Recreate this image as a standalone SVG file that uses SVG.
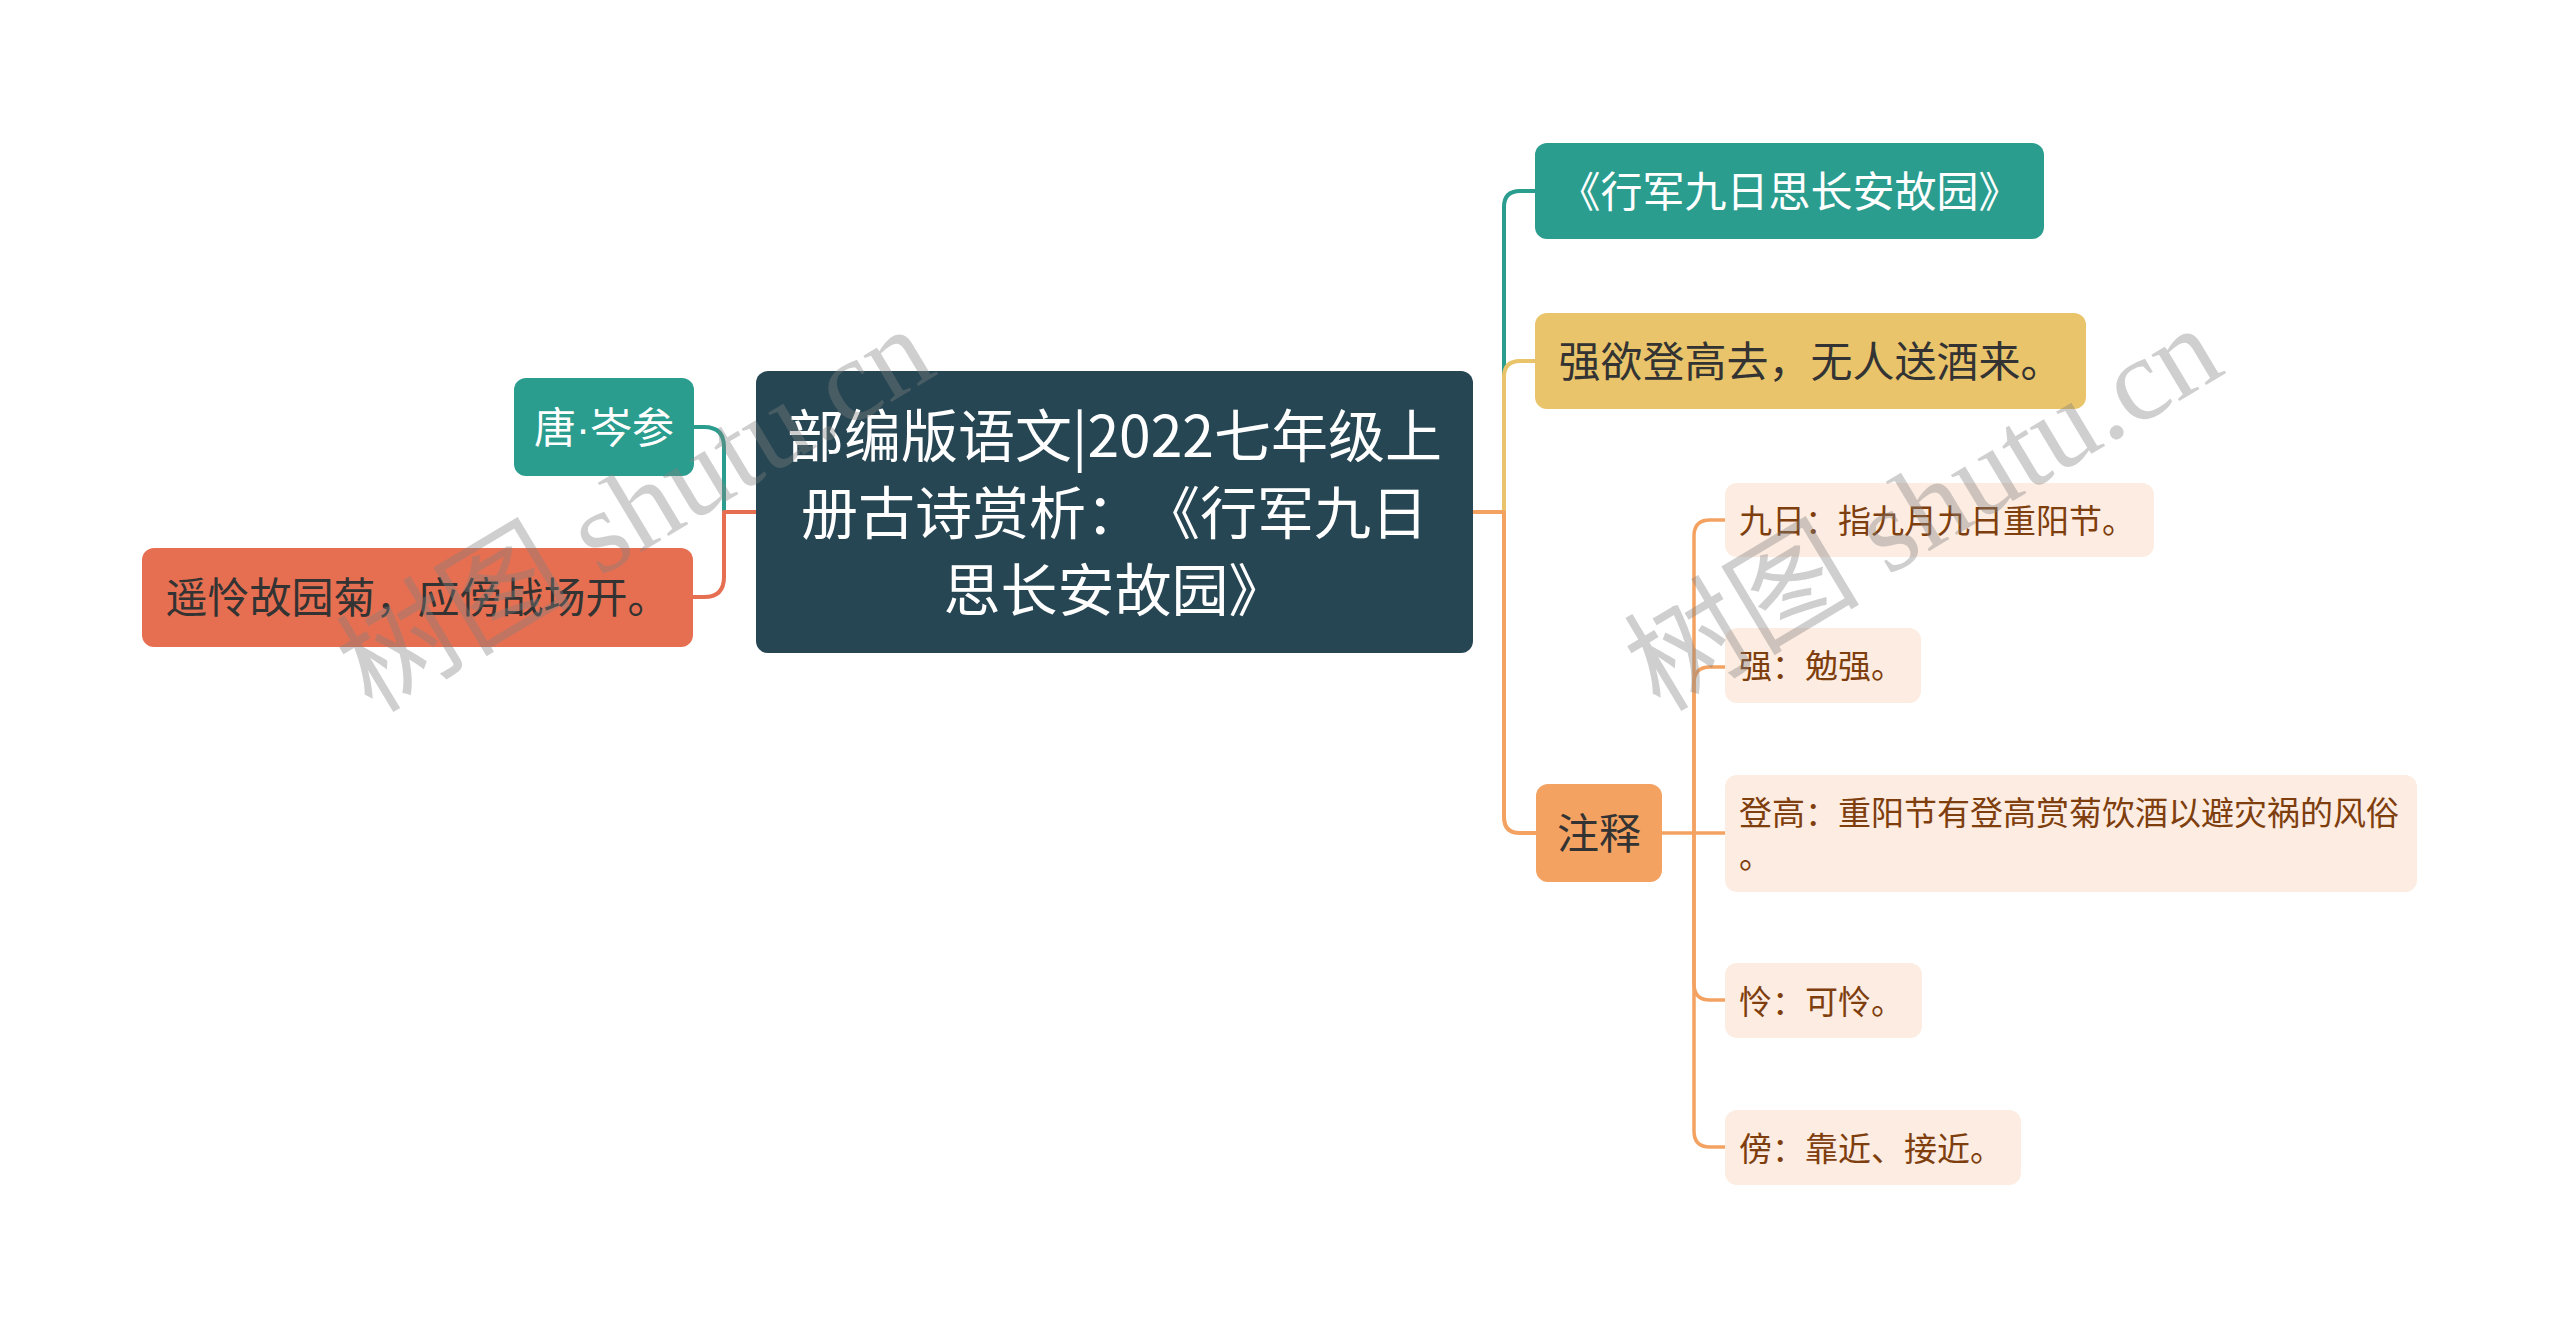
<svg xmlns="http://www.w3.org/2000/svg" width="2560" height="1327" viewBox="0 0 2560 1327">
<style>
text{font-family:"Noto Sans CJK SC","Noto Sans",sans-serif;text-spacing-trim:space-all;font-feature-settings:"chws" 0,"halt" 0}
.c{fill:none;stroke-width:4;stroke-linecap:round;stroke-linejoin:round}
.s{fill:none;stroke:#f4a261;stroke-width:3.5;stroke-linejoin:round}
.t1{font-size:42px}
.sub rect{fill:#fdece1}
.sub text{font-size:33px;fill:#7e3e0e}
.wm{font-family:"Liberation Serif","Noto Sans CJK SC",serif;font-size:118px;fill:#808080;fill-opacity:0.38}
</style>
<rect width="2560" height="1327" fill="#ffffff"/>
<g id="connectors">
<path class="c" stroke="#2a9d8f" d="M724,512 V447 Q724,427 704,427 H694"/>
<path class="c" stroke="#e76f51" d="M756,512 H724 V577 Q724,597 704,597 H693"/>
<path class="c" stroke="#2a9d8f" d="M1504,512 V207 Q1504,191 1520,191 H1535"/>
<path class="c" stroke="#e9c46a" d="M1504,512 V377 Q1504,361 1520,361 H1535"/>
<path class="c" stroke="#f4a261" d="M1473,512 H1504 V817 Q1504,833 1520,833 H1536"/>
<path class="s" d="M1694,833 V536 Q1694,520 1710,520 H1725"/>
<path class="s" d="M1694,833 V683 Q1694,667 1710,667 H1725"/>
<path class="s" d="M1662,833 H1725"/>
<path class="s" d="M1694,833 V984 Q1694,1000 1710,1000 H1725"/>
<path class="s" d="M1694,833 V1131 Q1694,1147 1710,1147 H1725"/>
</g>
<g id="root">
<rect x="756" y="371" width="717" height="282" rx="12" fill="#264653"/>
<text x="1114.5" y="457" font-size="57" fill="#ffffff" text-anchor="middle">部编版语文|2022七年级上</text>
<text x="1114.5" y="534" font-size="57" fill="#ffffff" text-anchor="middle">册古诗赏析：《行军九日</text>
<text x="1114.5" y="611" font-size="57" fill="#ffffff" text-anchor="middle">思长安故园》</text>
</g>
<g id="author">
<rect x="514" y="378" width="180" height="98" rx="12" fill="#2a9d8f"/>
<text class="t1" x="604" y="443" fill="#ffffff" text-anchor="middle">唐<tspan font-family="Liberation Sans, sans-serif">·</tspan>岑参</text>
</g>
<g id="line2">
<rect x="142" y="548" width="551" height="99" rx="12" fill="#e76f51"/>
<text class="t1" x="417.5" y="613" fill="#333333" text-anchor="middle">遥怜故园菊，应傍战场开。</text>
</g>
<g id="title">
<rect x="1535" y="143" width="509" height="96" rx="12" fill="#2a9d8f"/>
<text class="t1" x="1789.5" y="207" fill="#ffffff" text-anchor="middle">《行军九日思长安故园》</text>
</g>
<g id="line1">
<rect x="1535" y="313" width="551" height="96" rx="12" fill="#e9c46a"/>
<text class="t1" x="1810.5" y="377" fill="#333333" text-anchor="middle">强欲登高去，无人送酒来。</text>
</g>
<g id="notes">
<rect x="1536" y="784" width="126" height="98" rx="12" fill="#f4a261"/>
<text class="t1" x="1599" y="849" fill="#333333" text-anchor="middle">注释</text>
</g>
<g id="note1" class="sub">
<rect x="1725" y="483" width="429" height="74" rx="12"/>
<text x="1739" y="533">九日：指九月九日重阳节。</text>
</g>
<g id="note2" class="sub">
<rect x="1725" y="628" width="196" height="75" rx="12"/>
<text x="1739" y="678">强：勉强。</text>
</g>
<g id="note3" class="sub">
<rect x="1725" y="775" width="692" height="117" rx="12"/>
<text x="1739" y="825">登高：重阳节有登高赏菊饮酒以避灾祸的风俗</text>
<text x="1739" y="868">。</text>
</g>
<g id="note4" class="sub">
<rect x="1725" y="963" width="197" height="75" rx="12"/>
<text x="1739" y="1014">怜：可怜。</text>
</g>
<g id="note5" class="sub">
<rect x="1725" y="1110" width="296" height="75" rx="12"/>
<text x="1739" y="1161">傍：靠近、接近。</text>
</g>
<g id="watermark">
<text class="wm" x="372" y="714" transform="rotate(-31 372 714)">树图 shutu.cn</text>
<text class="wm" x="1660" y="713" transform="rotate(-31 1660 713)">树图 shutu.cn</text>
</g>
</svg>
